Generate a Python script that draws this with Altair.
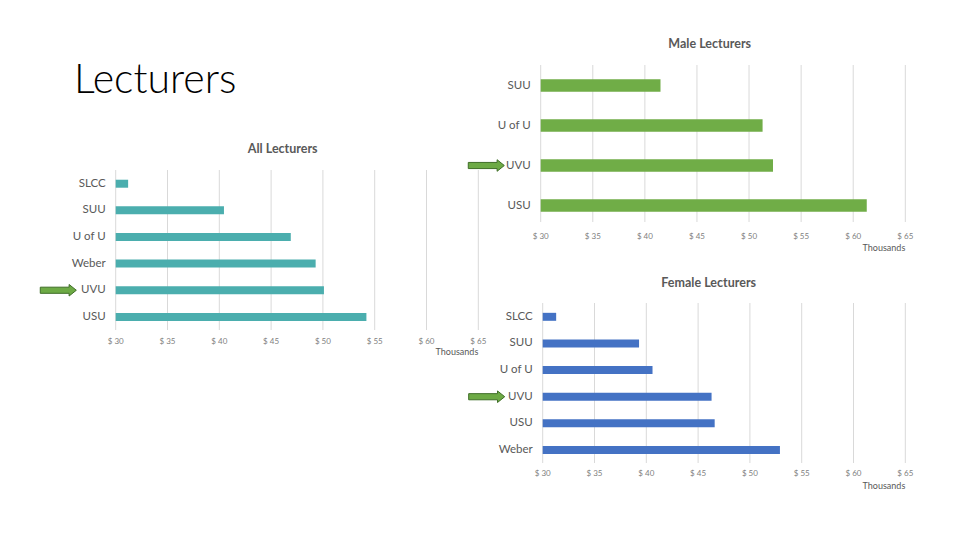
import altair as alt
import pandas as pd

# ---- data (salaries in thousands of dollars) ----
all_schools = ["SLCC", "SUU", "U of U", "Weber", "UVU", "USU"]
all_values = [31.2, 40.45, 46.9, 49.3, 50.1, 54.2]

male_schools = ["SUU", "U of U", "UVU", "USU"]
male_values = [41.5, 51.3, 52.3, 61.3]

female_schools = ["SLCC", "SUU", "U of U", "UVU", "USU", "Weber"]
female_values = [31.3, 39.3, 40.6, 46.3, 46.6, 52.9]

tick_values = [30, 35, 40, 45, 50, 55, 60, 65]
tick_labels = ["$ 30", "$ 35", "$ 40", "$ 45", "$ 50", "$ 55", "$ 60", "$ 65"]

FONT = "Lato"
GREY = "#595959"

ticks_df = pd.DataFrame({"v": tick_values, "label": tick_labels})


def panel(schools, values, color, xr, yr, pad_inner, grid_y, tick_y, thou_y,
          title, title_xy, arrow_x):
    df = pd.DataFrame({"school": schools, "value": values})
    xs = alt.Scale(domain=[30, 65], range=xr, zero=False, nice=False)
    ys = alt.Scale(domain=schools, range=yr, paddingInner=pad_inner,
                   paddingOuter=pad_inner / 2)
    layers = []
    # grid lines
    layers.append(
        alt.Chart(ticks_df).mark_rule(color="#D9D9D9", strokeWidth=1).encode(
            x=alt.X("v:Q", scale=xs, axis=None),
            y=alt.value(grid_y[0]), y2=alt.value(grid_y[1]))
    )
    # bars
    layers.append(
        alt.Chart(df).mark_bar(color=color).encode(
            x=alt.X("value:Q", scale=xs, axis=None),
            x2=alt.X2(datum=30),
            y=alt.Y("school:N", scale=ys, axis=None, sort=schools))
    )
    # category labels
    layers.append(
        alt.Chart(df).mark_text(align="right", baseline="middle", dx=-10,
                                font=FONT, fontSize=11.5, color=GREY).encode(
            x=alt.X(datum=30, scale=xs, axis=None),
            y=alt.Y("school:N", scale=ys, axis=None, sort=schools),
            text="school:N")
    )
    # tick labels
    layers.append(
        alt.Chart(ticks_df).mark_text(align="center", baseline="middle",
                                      font=FONT, fontSize=8, color="#808080").encode(
            x=alt.X("v:Q", scale=xs, axis=None),
            y=alt.value(tick_y),
            text="label:N")
    )
    # "Thousands"
    layers.append(
        alt.Chart(pd.DataFrame({"t": ["Thousands"]})).mark_text(
            align="right", baseline="middle", font=FONT, fontSize=9,
            color=GREY).encode(
            x=alt.X(datum=65, scale=xs, axis=None), y=alt.value(thou_y),
            text="t:N")
    )
    # title
    layers.append(
        alt.Chart(pd.DataFrame({"t": [title]})).mark_text(
            align="center", baseline="middle", font=FONT, fontSize=12.5,
            fontWeight="bold", color=GREY).encode(
            x=alt.value(title_xy[0]), y=alt.value(title_xy[1]), text="t:N")
    )
    # arrow pointing at UVU
    arrow = "M-1,-0.17 L0.6,-0.17 L0.6,-0.32 L1,0 L0.6,0.32 L0.6,0.17 L-1,0.17 Z"
    layers.append(
        alt.Chart(pd.DataFrame({"school": ["UVU"]})).mark_point(
            shape=arrow, filled=True, size=1300, fill="#6DAA45",
            stroke="#3F6E27", strokeWidth=1, opacity=1).encode(
            x=alt.value(arrow_x),
            y=alt.Y("school:N", scale=ys, axis=None, sort=schools))
    )
    return layers


layers = []
layers += panel(all_schools, all_values, "#4BAEAE", [107.7, 470.3], [162.4, 322.2],
                0.7, (162, 322), 333.7, 344.3, "All Lecturers", (274.7, 141.3), 50.3)
layers += panel(male_schools, male_values, "#70AD47", [532.7, 897.3], [57.5, 217.5],
                0.69, (57, 214), 228.7, 240.3, "Male Lecturers", (701.7, 36), 478.3)
layers += panel(female_schools, female_values, "#4472C4", [534.7, 897.3], [295.5, 455.3],
                0.7, (295, 455), 466.3, 477.7, "Female Lecturers", (700.7, 274.7), 478.7)

# slide heading
layers.append(
    alt.Chart(pd.DataFrame({"t": ["Lecturers"]})).mark_text(
        align="left", baseline="alphabetic", font=FONT, fontSize=41,
        fontWeight=300, color="#000000").encode(
        x=alt.value(66), y=alt.value(84.7), text="t:N")
)

chart = alt.layer(*layers).resolve_scale(
    x="independent", y="independent"
).properties(
    width=944, height=524, padding=0,
    autosize=alt.AutoSizeParams(type="none")
).configure_view(strokeWidth=0)

chart.save("out.html", embed_options={"renderer": "svg", "actions": False})
